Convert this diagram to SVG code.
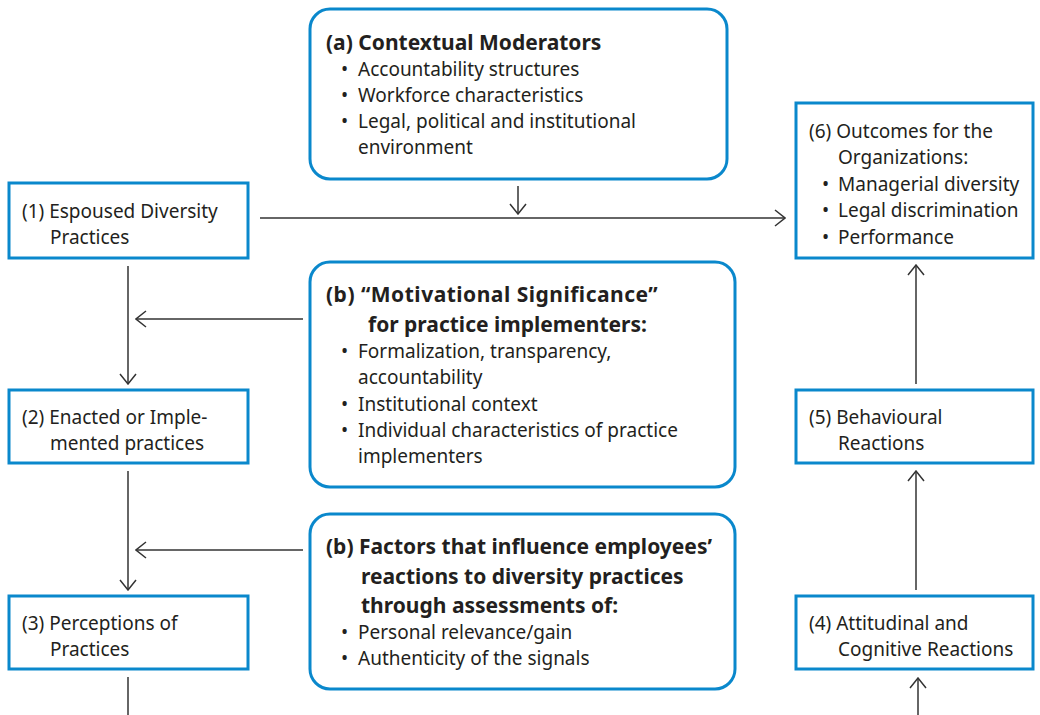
<svg xmlns="http://www.w3.org/2000/svg" width="1040" height="715" viewBox="0 0 1040 715">
<style>
.box{fill:#fff;stroke:#0a88cc;stroke-width:3}
.t{font-family:"Noto Sans","Liberation Sans",sans-serif;font-size:19px;fill:#231f20}
.b{font-family:"Noto Sans","Liberation Sans",sans-serif;font-size:21px;font-weight:bold;fill:#231f20}
.c{fill:none;stroke:#333;stroke-width:1.5}
</style>
<defs>
<marker id="ah" viewBox="0 0 12 18" refX="11" refY="9" markerWidth="12" markerHeight="18" markerUnits="userSpaceOnUse" orient="auto">
<path d="M1,1 L11,9 L1,17" fill="none" stroke="#333" stroke-width="1.5"/>
</marker>
</defs>
<rect width="1040" height="715" fill="#fff"/>
<g id="connectors">
<line class="c" x1="260" y1="218" x2="785" y2="218" marker-end="url(#ah)"/>
<line class="c" x1="518" y1="186" x2="518" y2="214" marker-end="url(#ah)"/>
<line class="c" x1="128" y1="266" x2="128" y2="384" marker-end="url(#ah)"/>
<line class="c" x1="303" y1="319" x2="136" y2="319" marker-end="url(#ah)"/>
<line class="c" x1="128" y1="471" x2="128" y2="590" marker-end="url(#ah)"/>
<line class="c" x1="303" y1="550" x2="136" y2="550" marker-end="url(#ah)"/>
<line class="c" x1="128" y1="677" x2="128" y2="715"/>
<line class="c" x1="918" y1="715" x2="918" y2="678" marker-end="url(#ah)"/>
<line class="c" x1="916" y1="590" x2="916" y2="471" marker-end="url(#ah)"/>
<line class="c" x1="916" y1="384" x2="916" y2="265" marker-end="url(#ah)"/>
</g>
<g id="node-a">
<rect class="box" x="310" y="9" width="417" height="170" rx="20"/>
<text class="b" x="326" y="50">(a) Contextual Moderators</text>
<text class="t" x="341" y="76">•</text><text class="t" x="358" y="76">Accountability structures</text>
<text class="t" x="341" y="102">•</text><text class="t" x="358" y="102">Workforce characteristics</text>
<text class="t" x="341" y="128">•</text><text class="t" x="358" y="128">Legal, political and institutional</text>
<text class="t" x="358" y="154">environment</text>
</g>
<g id="node-1">
<rect class="box" x="9" y="183" width="239" height="75"/>
<text class="t" x="22" y="218">(1) Espoused Diversity</text>
<text class="t" x="50" y="244">Practices</text>
</g>
<g id="node-6">
<rect class="box" x="796" y="103" width="237" height="155"/>
<text class="t" x="809" y="138">(6) Outcomes for the</text>
<text class="t" x="838" y="164">Organizations:</text>
<text class="t" x="822" y="191">•</text><text class="t" x="838" y="191">Managerial diversity</text>
<text class="t" x="822" y="217">•</text><text class="t" x="838" y="217">Legal discrimination</text>
<text class="t" x="822" y="244">•</text><text class="t" x="838" y="244">Performance</text>
</g>
<g id="node-b1">
<rect class="box" x="310" y="262" width="425" height="225" rx="20"/>
<text class="b" x="326" y="302" letter-spacing="0.5">(b) “Motivational Significance”</text>
<text class="b" x="368" y="332">for practice implementers:</text>
<text class="t" x="341" y="358">•</text><text class="t" x="358" y="358">Formalization, transparency,</text>
<text class="t" x="358" y="384">accountability</text>
<text class="t" x="341" y="411">•</text><text class="t" x="358" y="411">Institutional context</text>
<text class="t" x="341" y="437">•</text><text class="t" x="358" y="437">Individual characteristics of practice</text>
<text class="t" x="358" y="463">implementers</text>
</g>
<g id="node-2">
<rect class="box" x="9" y="390" width="239" height="73"/>
<text class="t" x="22" y="424">(2) Enacted or Imple-</text>
<text class="t" x="50" y="450">mented practices</text>
</g>
<g id="node-5">
<rect class="box" x="796" y="390" width="237" height="73"/>
<text class="t" x="809" y="424">(5) Behavioural</text>
<text class="t" x="838" y="450">Reactions</text>
</g>
<g id="node-b2">
<rect class="box" x="310" y="514" width="425" height="175" rx="20"/>
<text class="b" x="326" y="554">(b) Factors that influence employees’</text>
<text class="b" x="361" y="584">reactions to diversity practices</text>
<text class="b" x="361" y="613">through assessments of:</text>
<text class="t" x="341" y="639">•</text><text class="t" x="358" y="639">Personal relevance/gain</text>
<text class="t" x="341" y="665">•</text><text class="t" x="358" y="665">Authenticity of the signals</text>
</g>
<g id="node-3">
<rect class="box" x="9" y="596" width="239" height="73"/>
<text class="t" x="22" y="630">(3) Perceptions of</text>
<text class="t" x="50" y="656">Practices</text>
</g>
<g id="node-4">
<rect class="box" x="796" y="596" width="237" height="73"/>
<text class="t" x="809" y="630">(4) Attitudinal and</text>
<text class="t" x="838" y="656">Cognitive Reactions</text>
</g>
</svg>
